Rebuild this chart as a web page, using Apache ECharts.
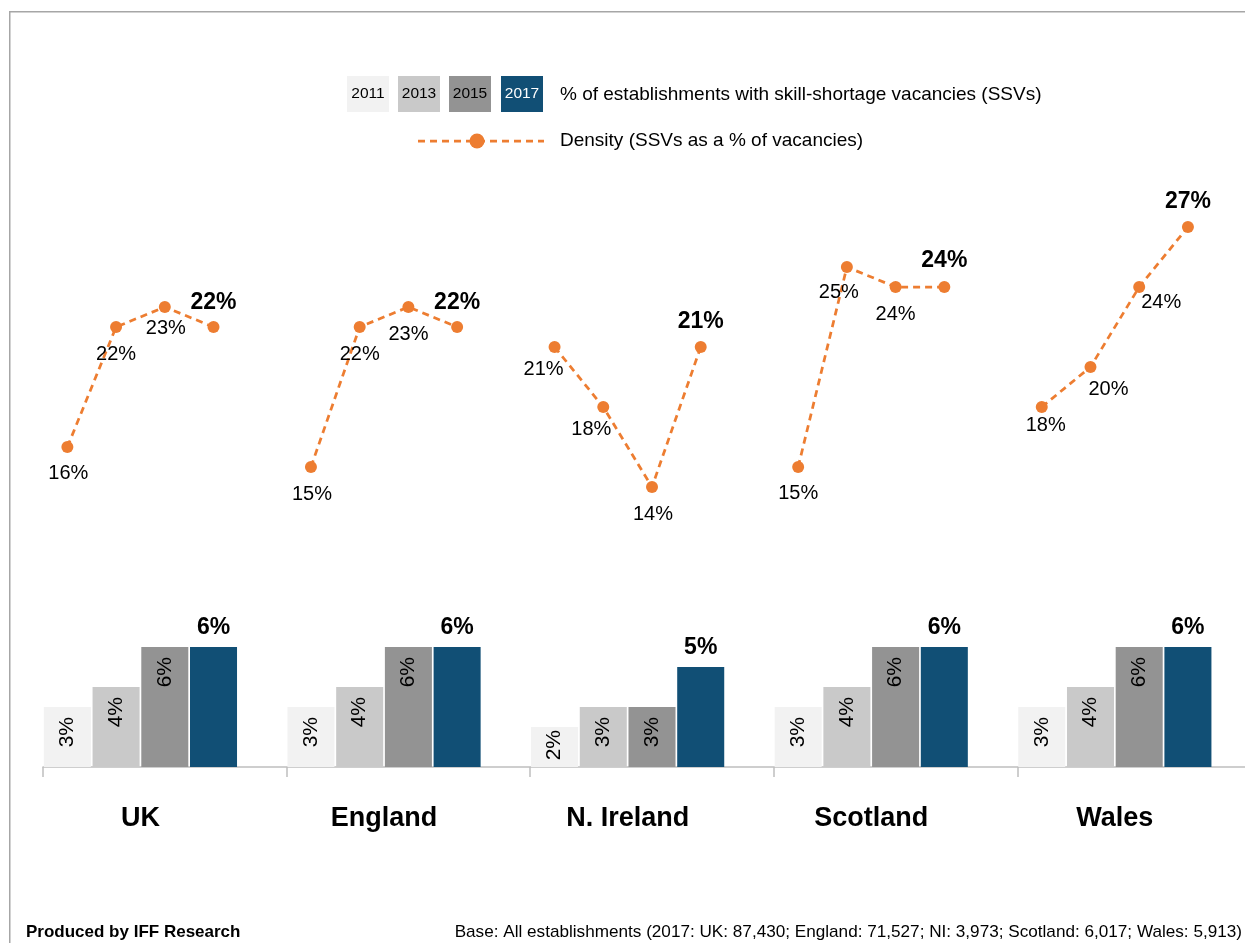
<!DOCTYPE html>
<html>
<head>
<meta charset="utf-8">
<title>Skill-shortage vacancies by nation</title>
<script src="https://cdn.jsdelivr.net/npm/echarts@6/dist/echarts.min.js"></script>
<style>
  html, body { margin: 0; padding: 0; background: #ffffff; overflow: hidden; }
  /* the plot runs slightly past the right edge of the window */
  #chart { width: 1265px; height: 943px; }
</style>
</head>
<body>
<div id="chart"></div>
<script>
// Nations shown along the axis
const categories = ['UK', 'England', 'N. Ireland', 'Scotland', 'Wales'];
const years = ['2011', '2013', '2015', '2017'];

// % of establishments with skill-shortage vacancies, per year
const ssv2011 = [3, 3, 2, 3, 3];
const ssv2013 = [4, 4, 3, 4, 4];
const ssv2015 = [6, 6, 3, 6, 6];
const ssv2017 = [6, 6, 5, 6, 6];

// Density (SSVs as a % of vacancies), 2011 / 2013 / 2015 / 2017
const densityUK = [16, 22, 23, 22];
const densityEngland = [15, 22, 23, 22];
const densityNI = [21, 18, 14, 21];
const densityScotland = [15, 25, 24, 24];
const densityWales = [18, 20, 24, 27];

// Footer and legend texts
const creditText = 'Produced by IFF Research';
const baseText = 'Base: All establishments (2017: UK: 87,430; England: 71,527; NI: 3,973; Scotland: 6,017; Wales: 5,913)';
const ssvLegendText = '% of establishments with skill-shortage vacancies (SSVs)';
const densityLegendText = 'Density (SSVs as a % of vacancies)';

// ---- styling ----
const FONT = '"Liberation Sans", Arial, Helvetica, sans-serif';
const barColors = ['#F2F2F2', '#C9C9C9', '#939393', '#114F75'];
const lineColor = '#ED7D31';

// Label nudges for density points (dx, dy from the point), one row per nation
const densityLabelNudge = [
  [[1, 26], [0, 27], [1, 21], [0, -24]],
  [[1, 27], [0, 27], [0, 27], [0, -24]],
  [[-11, 22], [-12, 22], [1, 27], [0, -25]],
  [[0, 26], [-8, 25], [0, 27], [0, -26]],
  [[4, 18], [18, 22], [22, 15], [0, -25]]
];

const densityRows = [densityUK, densityEngland, densityNI, densityScotland, densityWales];

// Fine axis: five slots per nation (four years + a spacer), so the line
// points sit over the matching bars.
const slotNames = [];
const densitySlots = [];
categories.forEach(function (c, ci) {
  years.forEach(function (y, yi) {
    slotNames.push(c + ' ' + y);
    const last = yi === years.length - 1;
    densitySlots.push({
      value: densityRows[ci][yi],
      label: {
        offset: densityLabelNudge[ci][yi],
        fontWeight: last ? 'bold' : 'normal',
        fontSize: last ? 23 : 20
      }
    });
  });
  slotNames.push(c + ' gap');
  densitySlots.push('-');
});

const ssvSeriesData = [ssv2011, ssv2013, ssv2015, ssv2017];

// short bars pull their rotated label closer to the bar end so it fits
function insideLabelItems(values) {
  return values.map(function (v) {
    return v < 3 ? { value: v, label: { distance: 3 } } : v;
  });
}

const barSeries = years.map(function (y, i) {
  const isLatest = i === years.length - 1;
  return {
    name: y,
    type: 'bar',
    xAxisIndex: 0,
    yAxisIndex: 0,
    data: isLatest ? ssvSeriesData[i] : insideLabelItems(ssvSeriesData[i]),
    barGap: '3.6%',
    barCategoryGap: '0.7%',
    itemStyle: { color: barColors[i] },
    label: isLatest ? {
      show: true,
      position: 'top',
      distance: 8,
      formatter: '{c}%',
      fontFamily: FONT,
      fontSize: 23,
      fontWeight: 'bold',
      color: '#000'
    } : {
      show: true,
      position: 'insideTop',
      distance: 10,
      rotate: 90,
      align: 'right',
      verticalAlign: 'middle',
      formatter: '{c}%',
      fontFamily: FONT,
      fontSize: 21,
      color: '#000'
    },
    emphasis: { disabled: true }
  };
});

// empty spacer slot after each nation's four bars
barSeries.push({
  name: 'spacer',
  type: 'bar',
  xAxisIndex: 0,
  yAxisIndex: 0,
  data: categories.map(function () { return '-'; }),
  barGap: '3.6%',
  barCategoryGap: '0.7%',
  silent: true
});

// ---- legend drawn as graphics ----
const legendGraphics = [];
const boxX = [347, 398, 449, 501];
years.forEach(function (y, i) {
  legendGraphics.push({
    type: 'rect',
    shape: { x: boxX[i], y: 76, width: 42, height: 36 },
    style: { fill: barColors[i] },
    silent: true
  });
  legendGraphics.push({
    type: 'text',
    x: boxX[i] + 21,
    y: 94,
    style: {
      text: y,
      fill: i === years.length - 1 ? '#ffffff' : '#000000',
      font: '15.5px ' + FONT,
      align: 'center',
      verticalAlign: 'middle'
    },
    silent: true
  });
});
legendGraphics.push({
  type: 'text', x: 560, y: 95,
  style: { text: ssvLegendText, fill: '#000', font: '19px ' + FONT, align: 'left', verticalAlign: 'middle' },
  silent: true
});
legendGraphics.push({
  type: 'line',
  shape: { x1: 418, y1: 141, x2: 544, y2: 141 },
  style: { stroke: lineColor, lineWidth: 2.75, lineDash: [7, 5] },
  silent: true
});
legendGraphics.push({
  type: 'circle',
  shape: { cx: 477, cy: 141, r: 7.5 },
  style: { fill: lineColor },
  silent: true
});
legendGraphics.push({
  type: 'text', x: 560, y: 141,
  style: { text: densityLegendText, fill: '#000', font: '19px ' + FONT, align: 'left', verticalAlign: 'middle' },
  silent: true
});

// frame and footer
const frameGraphics = [
  {
    type: 'rect',
    shape: { x: 9.75, y: 11.75, width: 1400, height: 1100 },
    style: { fill: 'none', stroke: '#A6A6A6', lineWidth: 1.5 },
    silent: true,
    z: -10
  },
  {
    type: 'text', x: 26, y: 932,
    style: { text: creditText, fill: '#000', font: 'bold 17px ' + FONT, align: 'left', verticalAlign: 'middle' },
    silent: true
  },
  {
    type: 'text', x: 1242, y: 932,
    style: { text: baseText, fill: '#000', font: '17.15px ' + FONT, align: 'right', verticalAlign: 'middle' },
    silent: true
  }
];

const chart = echarts.init(document.getElementById('chart'), null, { renderer: 'canvas' });

chart.setOption({
  animation: false,
  backgroundColor: '#ffffff',
  textStyle: { fontFamily: FONT },
  grid: { left: 43, top: 167, width: 1218, height: 600, containLabel: false },
  xAxis: [
    {
      type: 'category',
      data: categories,
      axisLine: { show: true, lineStyle: { color: '#BFBFBF', width: 1.5 } },
      axisTick: { show: true, length: 10, lineStyle: { color: '#BFBFBF', width: 1.5 } },
      axisLabel: {
        margin: 38,
        fontFamily: FONT,
        fontSize: 27,
        fontWeight: 'bold',
        color: '#000',
        padding: [0, 48.7, 0, 0]
      },
      splitLine: { show: false }
    },
    {
      type: 'category',
      data: slotNames,
      show: false,
      position: 'bottom'
    }
  ],
  yAxis: {
    type: 'value',
    min: 0,
    max: 30,
    show: false,
    splitLine: { show: false }
  },
  series: barSeries.concat([
    {
      name: 'Density',
      type: 'line',
      xAxisIndex: 1,
      yAxisIndex: 0,
      data: densitySlots,
      connectNulls: false,
      symbol: 'circle',
      symbolSize: 12,
      itemStyle: { color: lineColor },
      lineStyle: { color: lineColor, width: 2.75, type: [7, 5] },
      label: {
        show: true,
        position: 'inside',
        formatter: '{c}%',
        fontFamily: FONT,
        fontSize: 20,
        color: '#000'
      },
      emphasis: { disabled: true },
      z: 5
    }
  ]),
  graphic: frameGraphics.concat(legendGraphics)
});
</script>
</body>
</html>
